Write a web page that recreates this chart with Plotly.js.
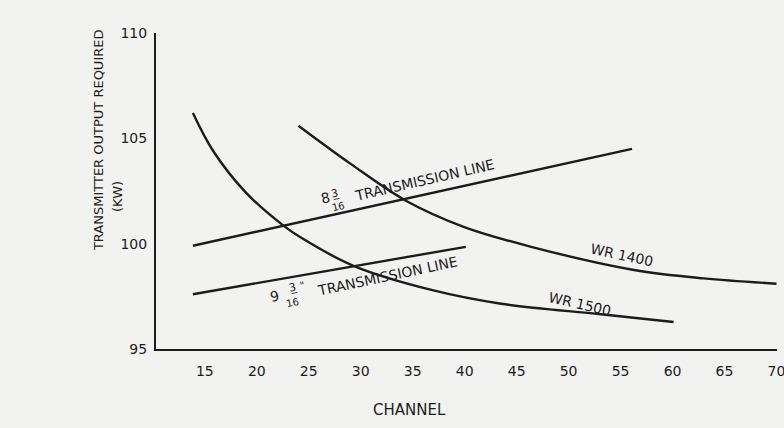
<!DOCTYPE html>
<html>
<head>
<meta charset="utf-8">
<script src="https://cdn.plot.ly/plotly-3.0.1.min.js"></script>
<style>
  html, body { margin: 0; padding: 0; background: #f2f2f1; }
  #chart { width: 784px; height: 428px; }
</style>
</head>
<body>
<div id="chart"></div>
<script>
// ---- data ----
const channelTicks = [15, 20, 25, 30, 35, 40, 45, 50, 55, 60, 65, 70];
const kwTicks = [95, 100, 105, 110];

const wr1500X = [13.85, 15.8, 19.0, 22.5, 24.2, 29.3, 37.0, 43.5, 53.1, 60.1];
const wr1500Y = [106.2, 104.4, 102.4, 100.88, 100.3, 98.95, 97.78, 97.15, 96.65, 96.28];

const wr1400X = [24.0, 29.0, 34.3, 39.9, 46.4, 56.3, 63.0, 70.0];
const wr1400Y = [105.6, 103.8, 102.05, 100.8, 99.85, 98.75, 98.35, 98.1];

const line8X = [13.85, 56.1];
const line8Y = [99.9, 104.5];

const line9X = [13.85, 40.1];
const line9Y = [97.6, 99.85];

// ---- chart ----
const ink = '#1c1c1c';
const font = 'DejaVu Sans, Liberation Sans, sans-serif';
const lineStyle = { color: ink, width: 2.4, shape: 'spline', smoothing: 1.0 };

const traces = [
  { x: wr1500X, y: wr1500Y, mode: 'lines', line: lineStyle, hoverinfo: 'skip' },
  { x: wr1400X, y: wr1400Y, mode: 'lines', line: lineStyle, hoverinfo: 'skip' },
  { x: line8X, y: line8Y, mode: 'lines', line: { color: ink, width: 2.4 }, hoverinfo: 'skip' },
  { x: line9X, y: line9Y, mode: 'lines', line: { color: ink, width: 2.4 }, hoverinfo: 'skip' }
];

function label(text, x, y, angle, size) {
  return { text: text, x: x, y: y, xref: 'x', yref: 'y', showarrow: false,
           textangle: angle, font: { family: font, size: size || 14, color: ink },
           xanchor: 'center', yanchor: 'middle' };
}

const annotations = [
  label('WR 1400', 55.1, 99.46, 12),
  label('WR 1500', 51.06, 97.14, 13),
  label('TRANSMISSION LINE', 36.15, 103.02, -13),
  label('8', 26.6, 102.17, -13),
  label('3\u0332', 27.55, 102.4, -13, 11),
  label('16', 27.85, 101.75, -13, 10),
  label('TRANSMISSION LINE', 32.6, 98.47, -12),
  label('9', 21.73, 97.52, -12),
  label('3\u0332', 23.46, 97.92, -12, 11),
  label('16', 23.46, 97.22, -12, 10),
  label('"', 24.35, 98.0, -12, 10),
  { text: 'TRANSMITTER OUTPUT REQUIRED', xref: 'paper', yref: 'paper', x: -0.0934, y: 0.661,
    textangle: -90, showarrow: false, font: { family: font, size: 13, color: ink },
    xanchor: 'center', yanchor: 'middle' },
  { text: '(KW)', xref: 'paper', yref: 'paper', x: -0.0628, y: 0.481,
    textangle: -90, showarrow: false, font: { family: font, size: 13, color: ink },
    xanchor: 'center', yanchor: 'middle' },
  { text: 'CHANNEL', xref: 'paper', yref: 'paper', x: 0.409, y: -0.193,
    showarrow: false, font: { family: font, size: 15, color: ink },
    xanchor: 'center', yanchor: 'middle' }
];

const layout = {
  width: 784, height: 428,
  margin: { l: 156, r: 7, t: 33, b: 79 },
  paper_bgcolor: '#f2f2f1',
  plot_bgcolor: '#f2f2f1',
  showlegend: false,
  xaxis: {
    range: [10.3, 70.05], tickvals: channelTicks, ticktext: channelTicks.map(String),
    showgrid: false, zeroline: false, showline: true, linecolor: ink, linewidth: 2,
    ticks: 'outside', ticklen: 8, tickcolor: 'rgba(0,0,0,0)',
    ticklabeloverflow: 'allow',
    tickfont: { family: font, size: 14, color: ink }
  },
  yaxis: {
    range: [95, 110], tickvals: kwTicks, ticktext: kwTicks.map(String),
    showgrid: false, zeroline: false, showline: true, linecolor: ink, linewidth: 2,
    ticks: 'outside', ticklen: 4, tickcolor: 'rgba(0,0,0,0)',
    tickfont: { family: font, size: 14, color: ink }
  },
  annotations: annotations
};

Plotly.newPlot('chart', traces, layout, { staticPlot: true, displayModeBar: false });
</script>
</body>
</html>
